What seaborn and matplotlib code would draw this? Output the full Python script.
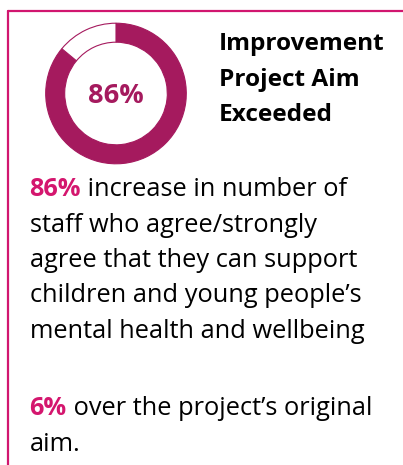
import matplotlib
matplotlib.use("Agg")
import matplotlib.pyplot as plt
import seaborn as sns
from matplotlib.lines import Line2D
from matplotlib.text import Annotation

# ---- data ----
achieved_pct = 86
remaining_pct = 100 - achieved_pct
centre_label = "86%"
title_lines = ["Improvement", "Project Aim", "Exceeded"]
body_highlights = ["86%", "6%"]
body_para1 = [" increase in number of",
              "staff who agree/strongly",
              "agree that they can support",
              "children and young people\u2019s",
              "mental health and wellbeing"]
body_para2 = [" over the project\u2019s original", "aim."]

sns.set_theme(style="white")
plt.rcParams["font.family"] = ["Open Sans", "DejaVu Sans"]

W, H = 403, 465
DONUT = "#A51A5E"
PINK = "#D4166E"
fig = plt.figure(figsize=(W / 100, H / 100), dpi=100)
fig.patch.set_facecolor("white")

def fx(x):
    return x / W

def fy(y):
    return 1 - y / H

# border (top + left)
fig.add_artist(Line2D([fx(8), fx(403)], [fy(11), fy(11)], color="#D1166F", lw=1.6,
                      transform=fig.transFigure))
fig.add_artist(Line2D([fx(8), fx(8)], [fy(11), fy(465)], color="#D1166F", lw=1.6,
                      transform=fig.transFigure))

# donut
cx, cy, r = 116, 93.5, 71
ax = fig.add_axes([fx(cx - r), fy(cy + r), 2 * r / W, 2 * r / H])
ax.pie([achieved_pct, remaining_pct], colors=[DONUT, "white"], startangle=90,
       counterclock=False, radius=1,
       wedgeprops=dict(width=0.27, edgecolor=DONUT, linewidth=0.8))
ax.set_aspect("equal")
ax.set_xlim(-1.01, 1.01)
ax.set_ylim(-1.01, 1.01)
ax.text(0, -0.03, centre_label, ha="center", va="center", fontsize=19.5,
        fontweight="bold", color=DONUT)
ax.axis("off")

# title
for i, t in enumerate(title_lines):
    fig.text(fx(219), fy(50 + 35.5 * i), t, fontsize=17.6, fontweight="bold",
             color="black", ha="left", va="baseline")

# body
BODY_FS = 18.3
x0 = fx(29.5)

def para(start_base, spacing, highlight, lines):
    h = fig.text(x0, fy(start_base), highlight, fontsize=BODY_FS, fontweight="bold",
                 color=PINK, ha="left", va="baseline")
    fig.add_artist(Annotation(lines[0], xy=(1, 0), xycoords=h, fontsize=BODY_FS,
                              color="black", ha="left", va="bottom"))
    for k, line in enumerate(lines[1:], start=1):
        fig.text(x0, fy(start_base + spacing * k), line, fontsize=BODY_FS,
                 color="black", ha="left", va="baseline")

para(196, 35.5, body_highlights[0], body_para1)
para(415, 36, body_highlights[1], body_para2)

fig.savefig("out.png", dpi=100, facecolor="white")
